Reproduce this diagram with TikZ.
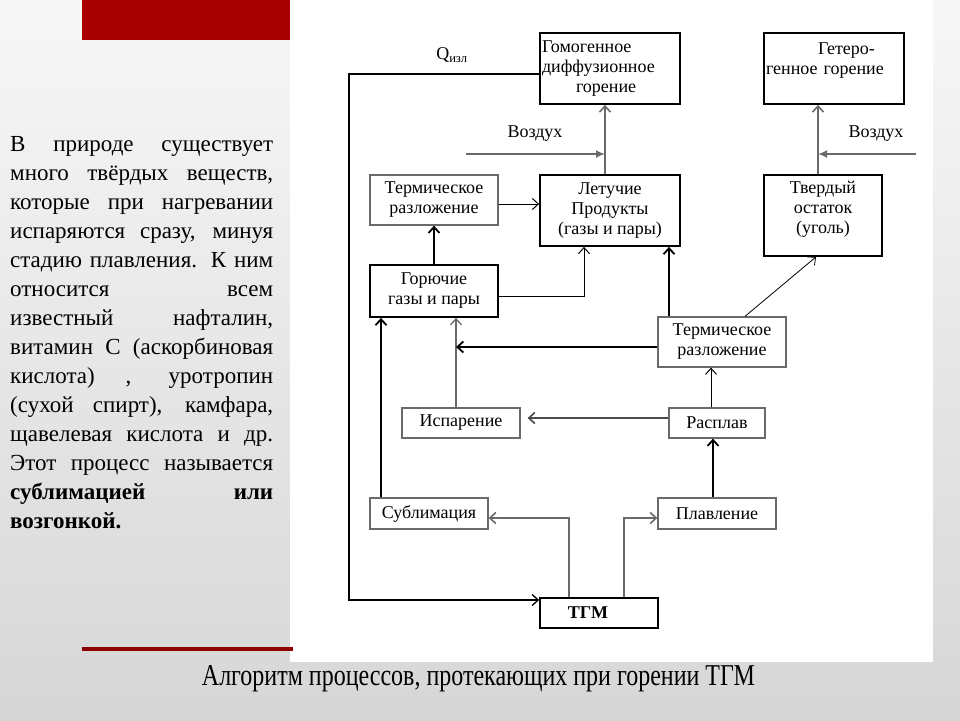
\documentclass[tikz,border=0pt]{standalone}
\usepackage{graphicx}
\usepackage{fontspec}
\setmainfont{Liberation Serif}
\usetikzlibrary{arrows.meta}

\definecolor{slidered}{HTML}{A80000}
\definecolor{linegray}{HTML}{6A6A6A}

\tikzset{
  box/.style={draw, line width=1.8pt, inner sep=0pt, align=center,
    font=\fontsize{18}{20}\selectfont},
  thinbox/.style={box, draw=linegray, line width=1.3pt},
  lbl/.style={inner sep=0pt, font=\fontsize{18}{20}\selectfont},
  arr/.style={-{Straight Barb[length=6pt,width=11pt]}, line width=1pt},
  thickarr/.style={arr, line width=1.8pt},
  grayarr/.style={arr, draw=linegray, line width=1.6pt},
  airarr/.style={-{Latex[length=9pt,width=8pt]}, draw=linegray, line width=2pt},
  para/.style={inner sep=0pt, anchor=base west, font=\fontsize{23}{29}\selectfont}
}

\begin{document}
\begin{tikzpicture}[x=1pt, y=-1pt]
  \useasboundingbox (0,0) rectangle (960,720);

  % --- 1. slide background ---
  \shade[top color=gray!6, bottom color=gray!32] (0,0) rectangle (960,720);
  \fill[slidered] (82,0) rectangle (290,40);
  \fill[white] (290,0) rectangle (933,662);
  \fill[slidered!85!black] (82,647) rectangle (293,651);

  % --- 2. left text ---
  \foreach \txt [count=\i] in {
      {В природе существует},
      {много твёрдых веществ,},
      {которые при нагревании},
      {испаряются сразу, минуя},
      {стадию плавления. К ним},
      {относится всем},
      {известный нафталин,},
      {витамин С (аскорбиновая},
      {кислота) , уротропин},
      {(сухой спирт), камфара,},
      {щавелевая кислота и др.},
      {Этот процесс называется},
      {\bfseries сублимацией или}}
    \node[para] (l\i) at (10,{122+29*\i}) {\makebox[263pt][s]{\txt}};
  \node[para] (l14) at (10,528) {\bfseries возгонкой.};

  % --- 3. boxes ---
  \node[box, minimum width=140pt, minimum height=71pt, text width=136pt, align=left]
    (hom) at (610,68.5) {Гомогенное\\диффузионное\\\hspace*{34pt}горение};
  \node[box, minimum width=140pt, minimum height=71pt, text width=136pt, align=left]
    (het) at (834,68.5) {\hspace*{52pt}Гетеро-\\генное горение\\\mbox{}};
  \node[thinbox, minimum width=128pt, minimum height=50pt]
    (termA) at (434,200) {Термическое\\разложение};
  \node[box, minimum width=140pt, minimum height=71pt]
    (vol) at (610,210.5) {Летучие\\Продукты\\(газы и пары)};
  \node[box, minimum width=118pt, minimum height=81pt]
    (solid) at (823,215.5) {Твердый\\остаток\\(уголь)\\[-3pt]\mbox{}};
  \node[box, minimum width=128pt, minimum height=52pt]
    (gor) at (434,291) {Горючие\\газы и пары};
  \node[thinbox, minimum width=128pt, minimum height=50pt]
    (termB) at (722,342) {Термическое\\разложение};
  \node[thinbox, minimum width=118pt, minimum height=30pt]
    (evap) at (461,423) {Испарение};
  \node[thinbox, minimum width=96pt, minimum height=30pt]
    (melt) at (717,423) {Расплав};
  \node[thinbox, minimum width=118pt, minimum height=31pt]
    (subl) at (429,513.5) {Сублимация};
  \node[thinbox, minimum width=118pt, minimum height=31pt]
    (fus) at (717,513.5) {Плавление};
  \node[box, minimum width=118pt, minimum height=30pt, font=\fontsize{18}{20}\selectfont\bfseries]
    (tgm) at (599,613) {ТГМ\hspace*{22pt}};

  % --- 4. radiation loop ---
  \coordinate (qleft) at (349,74);
  \draw[arr, line width=1.3pt] ([yshift=-5.5pt]hom.west) -- (qleft) |- ([yshift=13pt]tgm.west);
  \node[lbl] (qlab) at (452,55) {Q\textsubscript{изл}};

  % --- 5. air and combustion ---
  \coordinate (v1) at ([xshift=-5pt]vol.north);
  \coordinate (airL) at (466,154);
  \draw[grayarr] (v1) -- (v1 |- hom.south);
  \draw[airarr] (airL) -- (airL -| v1);
  \node[lbl] (airLlab) at (535,134) {Воздух};

  \coordinate (v2) at ([xshift=-5pt]solid.north);
  \coordinate (airR) at (916,154);
  \draw[grayarr] (v2) -- (v2 |- het.south);
  \draw[airarr] (airR) -- (airR -| v2);
  \node[lbl] (airRlab) at (876,134) {Воздух};

  % --- 6. inner arrows ---
  \draw[arr] ([yshift=-4pt]termA.east) -- ([yshift=-4pt]termA.east -| vol.west);
  \draw[thickarr] (gor.north) -- (termA.south);
  \draw[arr] ([yshift=-5pt]gor.east) -| ([xshift=-26pt]vol.south);

  \coordinate (t1) at ([xshift=-53pt]termB.north);
  \draw[thickarr] (t1) -- (t1 |- vol.south);
  \draw[arr, line width=0.8pt] ([xshift=23pt]termB.north) -- ([xshift=-7pt]solid.south);

  \coordinate (e1) at ([xshift=-5pt]evap.north);
  \draw[arr, draw=linegray, line width=1.3pt] (e1) -- (e1 |- gor.south);
  \draw[thickarr] ([yshift=-5pt]termB.west) -- ([yshift=-5pt]termB.west -| e1);

  \draw[grayarr, draw=linegray!70!black, shorten >=7pt] ([yshift=5pt]melt.west) -- ([yshift=5pt]melt.west -| evap.east);
  \coordinate (m1) at ([xshift=-6pt]melt.north);
  \draw[arr] (m1) -- (m1 |- termB.south);
  \coordinate (f1) at ([xshift=-4pt]fus.north);
  \draw[thickarr] (f1) -- (f1 |- melt.south);
  \coordinate (s1) at ([xshift=-48pt]subl.north);
  \draw[thickarr] (s1) -- (s1 |- gor.south);

  % --- 7. from the solid fuel ---
  \draw[grayarr] ([xshift=-30pt]tgm.north) |- ([yshift=-4.5pt]subl.east);
  \draw[grayarr] ([xshift=25pt]tgm.north) |- ([yshift=-4.5pt]fus.west);

  % --- 8. caption ---
  \node[inner sep=0pt, anchor=base] (cap) at (478.5,685)
    {\resizebox{553pt}{20pt}{Алгоритм процессов, протекающих при горении ТГМ}};

\end{tikzpicture}
\end{document}
